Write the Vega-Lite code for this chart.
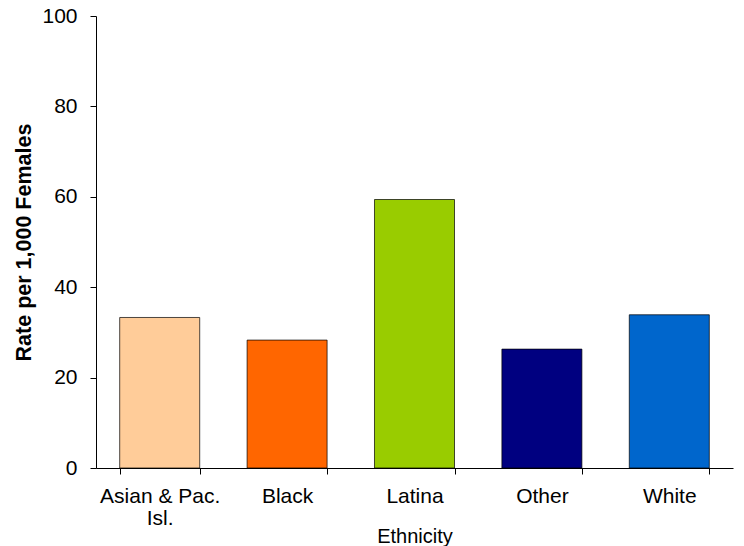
{
  "$schema": "https://vega.github.io/schema/vega-lite/v6.json",
  "autosize": "none",
  "width": 637,
  "height": 452,
  "padding": {"left": 96, "top": 16, "right": 11, "bottom": 78},
  "background": "white",
  "config": {
    "view": {"stroke": null},
    "font": "Liberation Sans",
    "axis": {"labelFont": "Liberation Sans", "titleFont": "Liberation Sans", "labelColor": "#000", "titleColor": "#000", "domainColor": "#000", "tickColor": "#000"}
  },
  "data": {
    "values": [
      {"ethnicity": "Asian & Pac. Isl.", "rate": 33.3},
      {"ethnicity": "Black", "rate": 28.3},
      {"ethnicity": "Latina", "rate": 59.4},
      {"ethnicity": "Other", "rate": 26.3},
      {"ethnicity": "White", "rate": 33.9}
    ]
  },
  "mark": {"type": "bar", "stroke": "#000", "strokeWidth": 1, "strokeOpacity": 0.7},
  "encoding": {
    "x": {
      "field": "ethnicity", "type": "nominal", "sort": null,
      "scale": {"paddingInner": 0.372, "paddingOuter": 0.186},
      "axis": {
        "title": "Ethnicity", "titleFontSize": 20, "titleFontWeight": "normal", "titlePadding": -2,
        "labelFontSize": 21, "labelAngle": 0, "labelPadding": 11, "labelLineHeight": 22,
        "labelExpr": "datum.value == 'Asian & Pac. Isl.' ? ['Asian & Pac.', 'Isl.'] : datum.value",
        "tickBand": "extent", "tickSize": 6, "grid": false
      }
    },
    "y": {
      "field": "rate", "type": "quantitative",
      "scale": {"domain": [0, 100], "nice": false},
      "axis": {
        "title": "Rate per 1,000 Females", "titleFontSize": 21.5, "titleFontWeight": "bold", "titlePadding": 6,
        "values": [0, 20, 40, 60, 80, 100], "labelFontSize": 21, "labelPadding": 13, "tickSize": 6, "grid": false
      }
    },
    "color": {
      "field": "ethnicity", "type": "nominal", "legend": null,
      "scale": {"domain": ["Asian & Pac. Isl.", "Black", "Latina", "Other", "White"], "range": ["#FFCC99", "#FF6600", "#99CC00", "#000080", "#0066CC"]}
    }
  }
}
